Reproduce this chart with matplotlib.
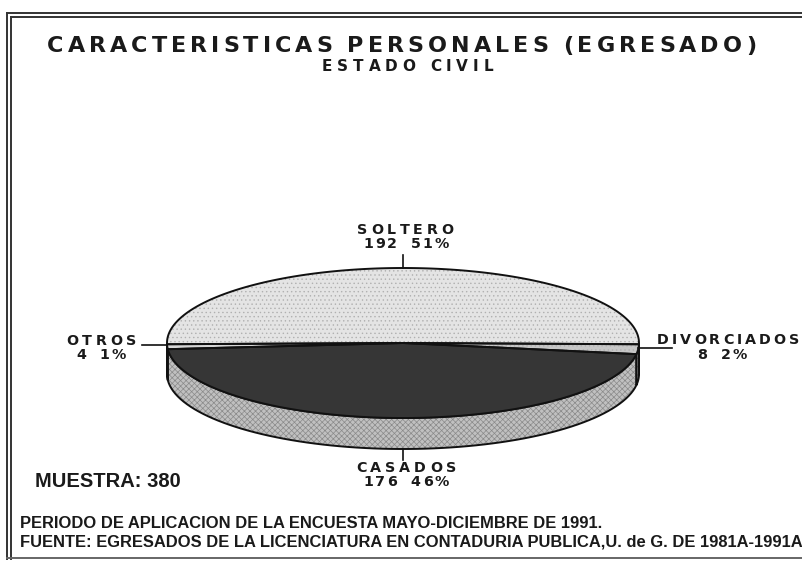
import numpy as np
import matplotlib
matplotlib.use("Agg")
import matplotlib.pyplot as plt
from matplotlib.patches import Polygon
from matplotlib.font_manager import FontProperties

# ---- data ----
categories = ["SOLTERO", "OTROS", "CASADOS", "DIVORCIADOS"]
counts = [192, 4, 176, 8]
pct_labels = ["51%", "1%", "46%", "2%"]
title = "CARACTERISTICAS PERSONALES (EGRESADO)"
subtitle = "ESTADO CIVIL"
muestra = "MUESTRA: 380"
foot1 = "PERIODO DE APLICACION DE LA ENCUESTA MAYO-DICIEMBRE DE 1991."
foot2 = "FUENTE: EGRESADOS DE LA LICENCIATURA EN CONTADURIA PUBLICA,U. de G. DE 1981A-1991A"

top_colors = ["#e4e4e4", "#d6d6d6", "#363636", "#c6c6c6"]
top_hatch = ["....", None, None, "...."]
rim_colors = ["#d0d0d0", "#c8c8c8", "#c0c0c0", "#bcbcbc"]
rim_hatch = ["....", "....", "xxxxxx", "...."]

W, H = 802, 561
fig = plt.figure(figsize=(W / 100, H / 100), dpi=100)
ax = fig.add_axes([0, 0, 1, 1])
ax.set_xlim(0, W)
ax.set_ylim(H, 0)
ax.axis("off")
plt.rcParams["hatch.linewidth"] = 0.5
renderer = fig.canvas.get_renderer()
INK = "#1a1a1a"


def glyph_widths(s, prop, space_w):
    return [space_w if ch == " " else
            renderer.get_text_width_height_descent(ch, prop, ismath=False)[0]
            for ch in s]


def draw_run(s, x, y, prop, widths, g):
    for ch, w in zip(s, widths):
        if ch != " ":
            ax.text(x + w / 2, y, ch, ha="center", va="center",
                    fontproperties=prop, color=INK, zorder=5)
        x += w + g


def tracked(s, xl, xr, y, size, family="DejaVu Sans", space_frac=0.30):
    """Draw s with even letter spacing so the ink spans xl..xr."""
    prop = FontProperties(family=family, weight="bold", size=size)
    widths = glyph_widths(s, prop, space_frac * size * 100 / 72)
    n_gaps = len(s) - 1
    g = (xr - xl - sum(widths)) / n_gaps if n_gaps else 0
    draw_run(s, xl, y, prop, max(g, 0.5) and widths, max(g, 0.5))


def pair(left, right, xc, y, size, g=2.0, gap=14, family="DejaVu Sans"):
    """Count and percentage centred on xc with a wide gap between them."""
    prop = FontProperties(family=family, weight="bold", size=size)
    wl = glyph_widths(left, prop, 0)
    wr = glyph_widths(right, prop, 0)
    total_l = sum(wl) + g * (len(wl) - 1)
    total_r = sum(wr) + g * (len(wr) - 1)
    x = xc - (total_l + gap + total_r) / 2
    draw_run(left, x, y, prop, wl, g)
    draw_run(right, x + total_l + gap, y, prop, wr, g)


# frame
lw = 1.4
ax.plot([7, W], [13, 13], color="#333", lw=lw)
ax.plot([11, W], [17, 17], color="#333", lw=lw)
ax.plot([7, 7], [13, 559], color="#333", lw=lw)
ax.plot([11, 11], [17, 559], color="#333", lw=lw)
ax.plot([7, W], [558, 558], color="#666", lw=lw)

# pie geometry
cx, cy, a, b, depth = 403, 343, 236, 75, 31
total = sum(counts)
spans = [c / total * 360 for c in counts]
start = 90 - spans[0] / 2
bounds = []
s = start
for sp in spans:
    bounds.append((s, s + sp))
    s += sp


def pt(th, dy=0.0):
    t = np.radians(th)
    return cx + a * np.cos(t), cy - b * np.sin(t) + dy


def fill(poly, face, hatch, hatch_col, z):
    ax.add_patch(Polygon(poly, closed=True, facecolor=face, edgecolor=hatch_col,
                         lw=0, hatch=hatch, zorder=z))
    ax.add_patch(Polygon(poly, closed=True, facecolor="none", edgecolor="#111",
                         lw=1.4, zorder=z + 0.1))


# rim (front half, angles 180..360)
for (t1, t2), col, h in zip(bounds, rim_colors, rim_hatch):
    for off in (0, 360, -360):
        lo, hi = max(t1 + off, 180), min(t2 + off, 360)
        if hi > lo:
            th = np.linspace(lo, hi, 80)
            topx, topy = pt(th)
            botx, boty = pt(th[::-1], depth)
            poly = np.column_stack([np.concatenate([topx, botx]),
                                    np.concatenate([topy, boty])])
            fill(poly, col, h, "#8a8a8a", 2)

# top surfaces
for (t1, t2), col, h in zip(bounds, top_colors, top_hatch):
    th = np.linspace(t1, t2, 200)
    x, y = pt(th)
    poly = np.column_stack([np.concatenate([[cx], x]), np.concatenate([[cy], y])])
    fill(poly, col, h, "#b0b0b0", 3)

# labels
LS = 10.3
mids = [(t1 + t2) / 2 for t1, t2 in bounds]
# Soltero (top)
x0, y0 = pt(90)
ax.plot([x0, x0], [y0 - 13, y0], color="#111", lw=1.2, zorder=4)
tracked(categories[0], 357, 453, 230, LS)
pair(str(counts[0]), pct_labels[0], 406, 244, LS)
# Casados (bottom)
x0, y0 = pt(270, depth)
ax.plot([x0, x0], [y0, y0 + 11], color="#111", lw=1.2, zorder=4)
tracked(categories[2], 356, 456, 468, LS)
pair(str(counts[2]), pct_labels[2], 406, 482, LS)
# Otros (left)
x0, y0 = pt(mids[1])
ax.plot([142, x0], [345, 345], color="#111", lw=1.2, zorder=4)
tracked(categories[1], 66, 136, 341, LS)
pair(str(counts[1]), pct_labels[1], 101, 355, LS)
# Divorciados (right)
x0, y0 = pt(mids[3])
ax.plot([x0, 672], [348, 348], color="#111", lw=1.2, zorder=4)
tracked(categories[3], 657, 799, 340, LS)
pair(str(counts[3]), pct_labels[3], 722, 355, LS)

# titles
tracked(title, 47, 756, 46, 16)
tracked(subtitle, 322, 493, 66.5, 11)

ax.text(35, 481, muestra, ha="left", va="center", family="Liberation Sans",
        fontweight="bold", fontsize=14.5, color=INK)

fprop = FontProperties(family="Liberation Sans", weight="bold", size=10)
w10 = renderer.get_text_width_height_descent(foot2, fprop, ismath=False)[0]
fsize = 10 * 780 / w10
ax.text(20, 523, foot1, ha="left", va="center", family="Liberation Sans",
        fontweight="bold", fontsize=fsize, color=INK)
ax.text(20, 542, foot2, ha="left", va="center", family="Liberation Sans",
        fontweight="bold", fontsize=fsize, color=INK)

fig.savefig("out.png", dpi=100, facecolor="white")
